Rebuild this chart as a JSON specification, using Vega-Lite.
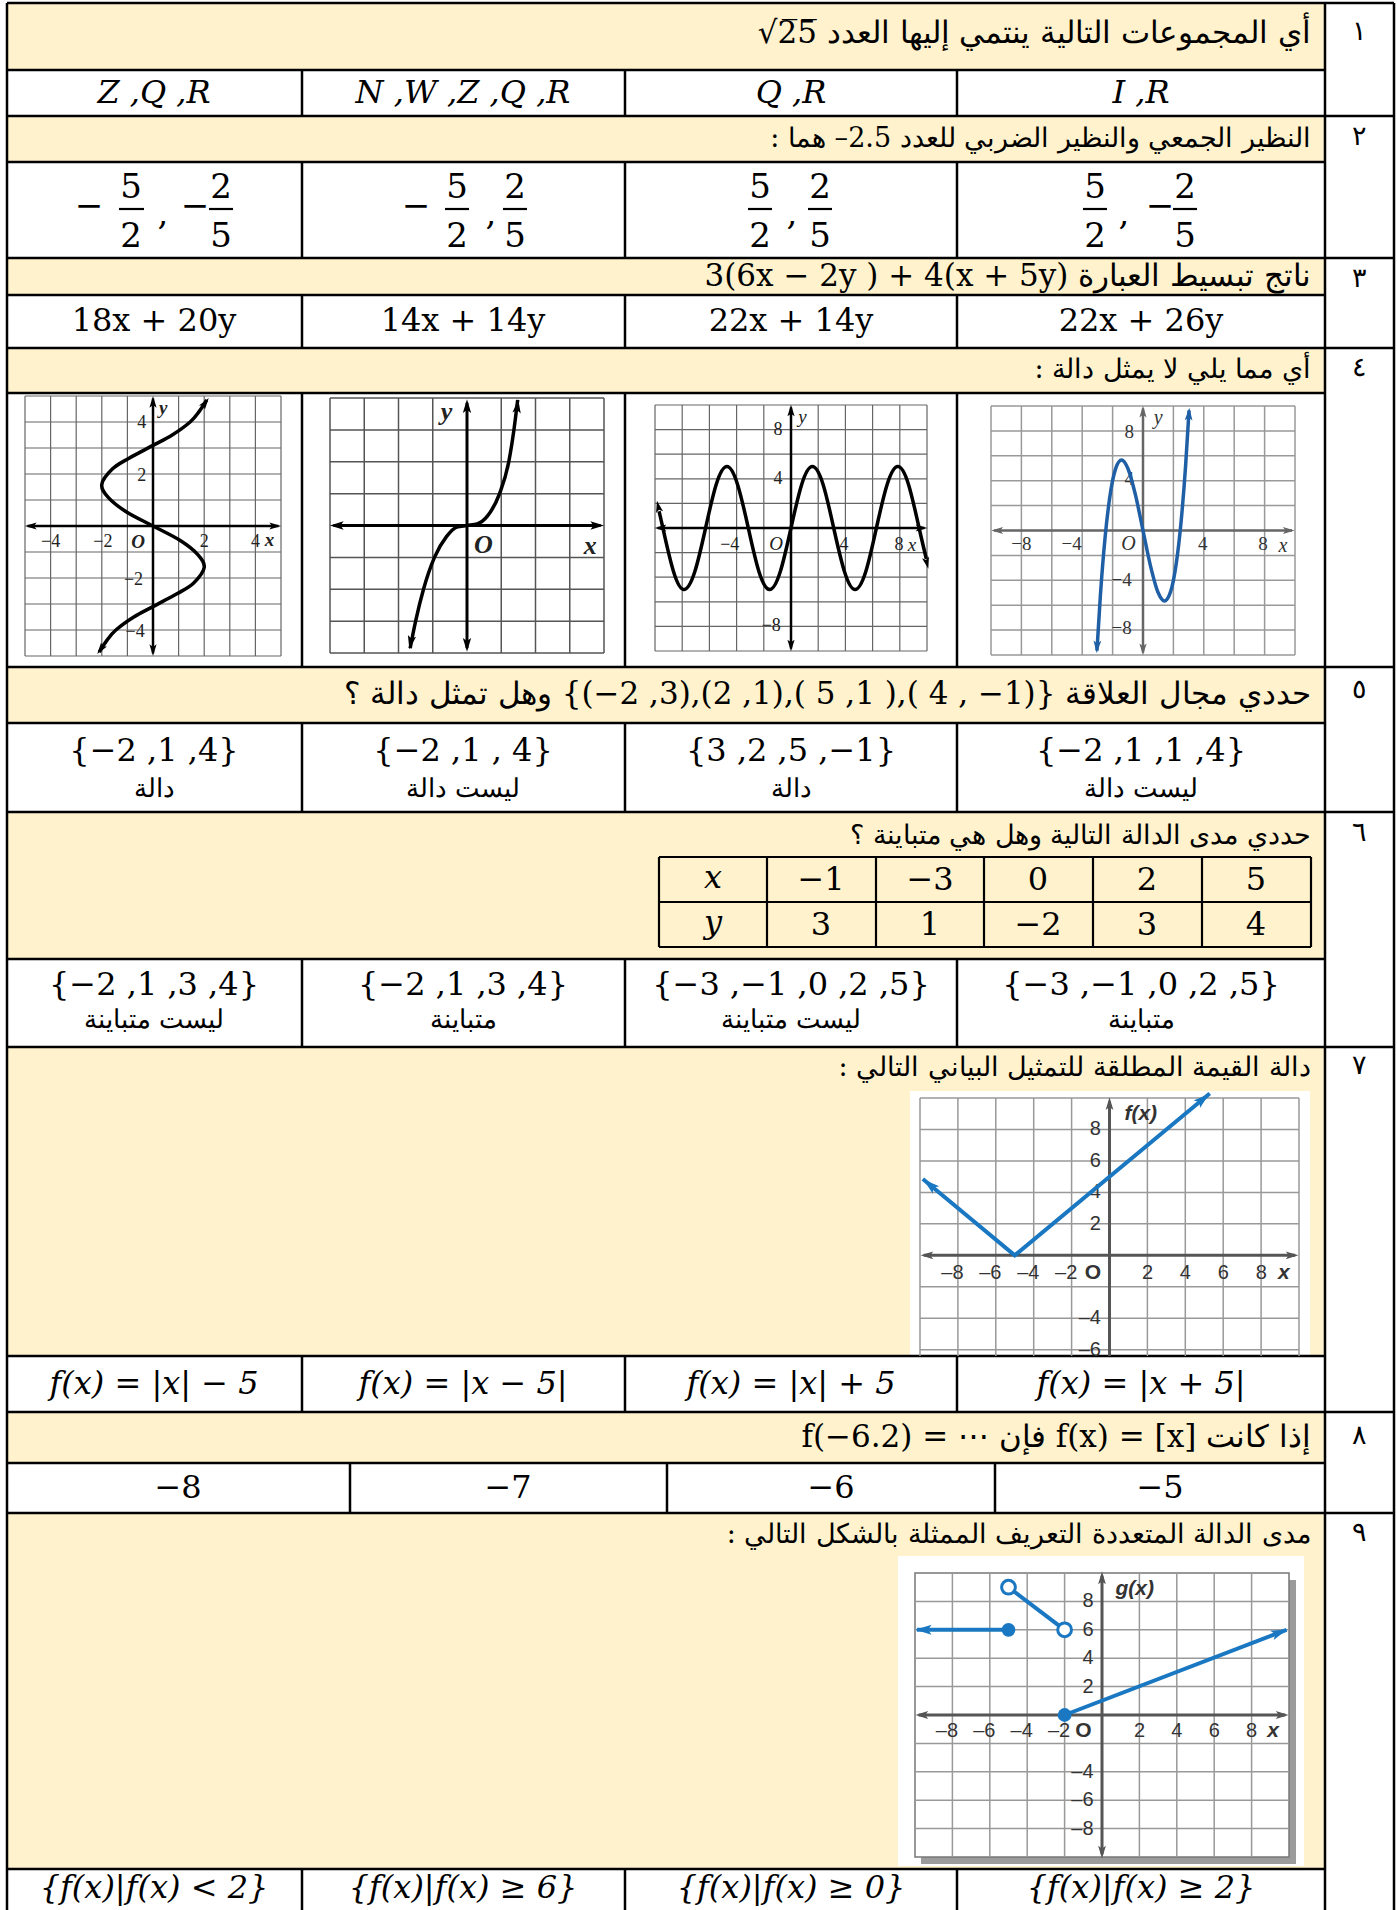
{
"$schema":"https://vega.github.io/schema/vega-lite/v6.json",
"width":1397,"height":1910,"padding":0,"autosize":{"type":"none"},
"background":"white",
"config":{"view":{"stroke":null}},
"resolve":{"scale":{"x":"independent","y":"independent"}},
"layer":[
{
"encoding":{
 "x":{"field":"x","type":"quantitative","scale":{"domain":[0,1397],"range":[0,1397],"nice":false,"zero":false},"axis":null},
 "y":{"field":"y","type":"quantitative","scale":{"domain":[0,1910],"range":[0,1910],"nice":false,"zero":false},"axis":null}
},
"layer":[
 {"data":{"values":[
  {"x":7,"x2":1325,"y":3,"y2":70},{"x":7,"x2":1325,"y":116,"y2":162},{"x":7,"x2":1325,"y":258,"y2":295},
  {"x":7,"x2":1325,"y":348,"y2":393},{"x":7,"x2":1325,"y":667,"y2":723},{"x":7,"x2":1325,"y":812,"y2":959},
  {"x":7,"x2":1325,"y":1047,"y2":1356},{"x":7,"x2":1325,"y":1412,"y2":1463},{"x":7,"x2":1325,"y":1513,"y2":1869}]},
  "mark":{"type":"rect","fill":"#FFF2CC"},"encoding":{"x2":{"field":"x2"},"y2":{"field":"y2"}}},
 {"data":{"values":[{"x":910,"x2":1310,"y":1091,"y2":1356},{"x":898,"x2":1304,"y":1556,"y2":1866}]},
  "mark":{"type":"rect","fill":"white"},"encoding":{"x2":{"field":"x2"},"y2":{"field":"y2"}}},
 {"data":{"values":[{"x":921,"x2":1296,"y":1580,"y2":1864}]},
  "mark":{"type":"rect","fill":"#8a8a8a","opacity":0.85},"encoding":{"x2":{"field":"x2"},"y2":{"field":"y2"}}},
 {"data":{"values":[
  {"x":7,"x2":1394,"y":3,"y2":3},{"x":7,"x2":1325,"y":70,"y2":70},{"x":7,"x2":1394,"y":116,"y2":116},
  {"x":7,"x2":1325,"y":162,"y2":162},{"x":7,"x2":1394,"y":258,"y2":258},{"x":7,"x2":1325,"y":295,"y2":295},
  {"x":7,"x2":1394,"y":348,"y2":348},{"x":7,"x2":1325,"y":393,"y2":393},{"x":7,"x2":1394,"y":667,"y2":667},
  {"x":7,"x2":1325,"y":723,"y2":723},{"x":7,"x2":1394,"y":812,"y2":812},{"x":7,"x2":1325,"y":959,"y2":959},
  {"x":7,"x2":1394,"y":1047,"y2":1047},{"x":7,"x2":1325,"y":1356,"y2":1356},{"x":7,"x2":1394,"y":1412,"y2":1412},
  {"x":7,"x2":1325,"y":1463,"y2":1463},{"x":7,"x2":1394,"y":1513,"y2":1513},{"x":7,"x2":1325,"y":1869,"y2":1869},
  {"x":7,"x2":7,"y":3,"y2":1910},{"x":1325,"x2":1325,"y":3,"y2":1910},{"x":1394,"x2":1394,"y":3,"y2":1910},
  {"x":302,"x2":302,"y":70,"y2":116},{"x":625,"x2":625,"y":70,"y2":116},{"x":957,"x2":957,"y":70,"y2":116},
  {"x":302,"x2":302,"y":162,"y2":258},{"x":625,"x2":625,"y":162,"y2":258},{"x":957,"x2":957,"y":162,"y2":258},
  {"x":302,"x2":302,"y":295,"y2":348},{"x":625,"x2":625,"y":295,"y2":348},{"x":957,"x2":957,"y":295,"y2":348},
  {"x":302,"x2":302,"y":393,"y2":667},{"x":625,"x2":625,"y":393,"y2":667},{"x":957,"x2":957,"y":393,"y2":667},
  {"x":302,"x2":302,"y":723,"y2":812},{"x":625,"x2":625,"y":723,"y2":812},{"x":957,"x2":957,"y":723,"y2":812},
  {"x":302,"x2":302,"y":959,"y2":1047},{"x":625,"x2":625,"y":959,"y2":1047},{"x":957,"x2":957,"y":959,"y2":1047},
  {"x":302,"x2":302,"y":1356,"y2":1412},{"x":625,"x2":625,"y":1356,"y2":1412},{"x":957,"x2":957,"y":1356,"y2":1412},
  {"x":350,"x2":350,"y":1463,"y2":1513},{"x":667,"x2":667,"y":1463,"y2":1513},{"x":995,"x2":995,"y":1463,"y2":1513},
  {"x":302,"x2":302,"y":1869,"y2":1910},{"x":625,"x2":625,"y":1869,"y2":1910},{"x":957,"x2":957,"y":1869,"y2":1910}]},
  "mark":{"type":"rule","color":"black","strokeWidth":2.5},"encoding":{"x2":{"field":"x2"},"y2":{"field":"y2"}}},
 {"data":{"values":[
  {"x":659,"x2":1311,"y":857,"y2":857},{"x":659,"x2":1311,"y":902,"y2":902},{"x":659,"x2":1311,"y":947,"y2":947},
  {"x":659,"x2":659,"y":857,"y2":947},{"x":767,"x2":767,"y":857,"y2":947},{"x":876,"x2":876,"y":857,"y2":947},
  {"x":984,"x2":984,"y":857,"y2":947},{"x":1093,"x2":1093,"y":857,"y2":947},{"x":1202,"x2":1202,"y":857,"y2":947},
  {"x":1311,"x2":1311,"y":857,"y2":947},
  {"x":119,"x2":144,"y":209,"y2":209},{"x":209,"x2":233,"y":209,"y2":209},{"x":445,"x2":469,"y":209,"y2":209},
  {"x":503,"x2":527,"y":209,"y2":209},{"x":748,"x2":772,"y":209,"y2":209},{"x":808,"x2":832,"y":209,"y2":209},
  {"x":1083,"x2":1107,"y":209,"y2":209},{"x":1173,"x2":1197,"y":209,"y2":209}]},
  "mark":{"type":"rule","color":"black","strokeWidth":2.2},"encoding":{"x2":{"field":"x2"},"y2":{"field":"y2"}}},
 {"data":{"values":[
  {"x":1311,"y":34,"t":"\u202Bأي المجموعات التالية ينتمي إليها العدد \u202A√2̅5̅\u202C\u202C"},
  {"x":1311,"y":277,"t":"\u202Bناتج تبسيط العبارة \u202A3(6x − 2y ) + 4(x + 5y)\u202C\u202C"},
  {"x":1311,"y":695,"t":"\u202Bحددي مجال العلاقة \u202D{(−2 ,3),(2 ,1),( 5 ,1 ),( 4 , −1)}\u202C وهل تمثل دالة ؟\u202C"},
  {"x":1311,"y":1438,"t":"\u202Bإذا كانت \u202Af(x) = [x]\u202C  فإن \u202Af(−6.2) = ⋯\u202C\u202C"}]},
  "mark":{"type":"text","font":"DejaVu Serif","fontSize":31,"align":"right","baseline":"middle","color":"black"},
  "encoding":{"text":{"field":"t"}}},
 {"data":{"values":[
  {"x":1311,"y":139,"t":"\u202Bالنظير الجمعي والنظير الضربي للعدد 2.5– هما :\u202C"},
  {"x":1311,"y":370,"t":"\u202Bأي مما يلي لا يمثل دالة :\u202C"},
  {"x":1311,"y":836,"t":"\u202Bحددي مدى الدالة التالية وهل هي متباينة ؟\u202C"},
  {"x":1311,"y":1068,"t":"\u202Bدالة القيمة المطلقة للتمثيل البياني التالي :\u202C"},
  {"x":1311,"y":1535,"t":"\u202Bمدى الدالة المتعددة التعريف الممثلة بالشكل التالي :\u202C"}]},
  "mark":{"type":"text","font":"DejaVu Serif","fontSize":27,"align":"right","baseline":"middle","color":"black"},
  "encoding":{"text":{"field":"t"}}},
 {"data":{"values":[
  {"x":1359,"y":32,"t":"١"},{"x":1359,"y":137,"t":"٢"},{"x":1359,"y":279,"t":"٣"},{"x":1359,"y":368,"t":"٤"},
  {"x":1359,"y":690,"t":"٥"},{"x":1359,"y":833,"t":"٦"},{"x":1359,"y":1066,"t":"٧"},{"x":1359,"y":1436,"t":"٨"},
  {"x":1359,"y":1533,"t":"٩"}]},
  "mark":{"type":"text","font":"DejaVu Serif","fontSize":27,"align":"center","baseline":"middle","color":"black"},
  "encoding":{"text":{"field":"t"}}},
 {"data":{"values":[
  {"x":154,"y":93,"t":"Z ,Q ,R"},{"x":463,"y":93,"t":"N ,W ,Z ,Q ,R"},{"x":791,"y":93,"t":"Q ,R"},{"x":1141,"y":93,"t":"I ,R"},
  {"x":154,"y":1384,"t":"f(x) = |x| − 5"},{"x":463,"y":1384,"t":"f(x) = |x − 5|"},{"x":791,"y":1384,"t":"f(x) = |x| + 5"},{"x":1141,"y":1384,"t":"f(x) = |x + 5|"},
  {"x":154,"y":1888,"t":"{f(x)|f(x) < 2}"},{"x":463,"y":1888,"t":"{f(x)|f(x) ≥ 6}"},{"x":791,"y":1888,"t":"{f(x)|f(x) ≥ 0}"},{"x":1141,"y":1888,"t":"{f(x)|f(x) ≥ 2}"}]},
  "mark":{"type":"text","font":"DejaVu Serif","fontSize":32,"fontStyle":"italic","align":"center","baseline":"middle","color":"black"},
  "encoding":{"text":{"field":"t"}}},
 {"data":{"values":[
  {"x":131,"y":188,"t":"5"},{"x":221,"y":188,"t":"2"},{"x":131,"y":237,"t":"2"},{"x":221,"y":237,"t":"5"},
  {"x":457,"y":188,"t":"5"},{"x":515,"y":188,"t":"2"},{"x":457,"y":237,"t":"2"},{"x":515,"y":237,"t":"5"},
  {"x":760,"y":188,"t":"5"},{"x":820,"y":188,"t":"2"},{"x":760,"y":237,"t":"2"},{"x":820,"y":237,"t":"5"},
  {"x":1095,"y":188,"t":"5"},{"x":1185,"y":188,"t":"2"},{"x":1095,"y":237,"t":"2"},{"x":1185,"y":237,"t":"5"},
  {"x":89,"y":207,"t":"−"},{"x":195,"y":207,"t":"−"},{"x":416,"y":207,"t":"−"},{"x":1160,"y":207,"t":"−"},
  {"x":163,"y":215,"t":","},{"x":491,"y":215,"t":","},{"x":792,"y":215,"t":","},{"x":1124,"y":215,"t":","}]},
  "mark":{"type":"text","font":"DejaVu Serif","fontSize":34,"align":"center","baseline":"middle","color":"black"},
  "encoding":{"text":{"field":"t"}}},
 {"data":{"values":[
  {"x":154,"y":321,"t":"18x + 20y"},{"x":463,"y":321,"t":"14x + 14y"},{"x":791,"y":321,"t":"22x + 14y"},{"x":1141,"y":321,"t":"22x + 26y"},
  {"x":154,"y":751,"t":"{−2 ,1 ,4}"},{"x":463,"y":751,"t":"{−2 ,1 , 4}"},{"x":791,"y":751,"t":"{3 ,2 ,5 ,−1}"},{"x":1141,"y":751,"t":"{−2 ,1 ,1 ,4}"},
  {"x":154,"y":985,"t":"{−2 ,1 ,3 ,4}"},{"x":463,"y":985,"t":"{−2 ,1 ,3 ,4}"},{"x":791,"y":985,"t":"{−3 ,−1 ,0 ,2 ,5}"},{"x":1141,"y":985,"t":"{−3 ,−1 ,0 ,2 ,5}"},
  {"x":178,"y":1488,"t":"−8"},{"x":508,"y":1488,"t":"−7"},{"x":831,"y":1488,"t":"−6"},{"x":1160,"y":1488,"t":"−5"}]},
  "mark":{"type":"text","font":"DejaVu Serif","fontSize":32,"align":"center","baseline":"middle","color":"black"},
  "encoding":{"text":{"field":"t"}}},
 {"data":{"values":[
  {"x":821,"y":880,"t":"−1"},{"x":930,"y":880,"t":"−3"},{"x":1038,"y":880,"t":"0"},{"x":1147,"y":880,"t":"2"},{"x":1256,"y":880,"t":"5"},
  {"x":821,"y":925,"t":"3"},{"x":930,"y":925,"t":"1"},{"x":1038,"y":925,"t":"−2"},{"x":1147,"y":925,"t":"3"},{"x":1256,"y":925,"t":"4"}]},
  "mark":{"type":"text","font":"DejaVu Serif","fontSize":32,"align":"center","baseline":"middle","color":"black"},
  "encoding":{"text":{"field":"t"}}},
 {"data":{"values":[{"x":713,"y":878,"t":"x"},{"x":713,"y":923,"t":"y"}]},
  "mark":{"type":"text","font":"DejaVu Serif","fontSize":32,"fontStyle":"italic","align":"center","baseline":"middle","color":"black"},
  "encoding":{"text":{"field":"t"}}},
 {"data":{"values":[
  {"x":154,"y":789,"t":"\u202Bدالة\u202C"},{"x":463,"y":789,"t":"\u202Bليست دالة\u202C"},{"x":791,"y":789,"t":"\u202Bدالة\u202C"},{"x":1141,"y":789,"t":"\u202Bليست دالة\u202C"},
  {"x":154,"y":1020,"t":"\u202Bليست متباينة\u202C"},{"x":463,"y":1020,"t":"\u202Bمتباينة\u202C"},{"x":791,"y":1020,"t":"\u202Bليست متباينة\u202C"},{"x":1141,"y":1020,"t":"\u202Bمتباينة\u202C"}]},
  "mark":{"type":"text","font":"DejaVu Serif","fontSize":26,"align":"center","baseline":"middle","color":"black"},
  "encoding":{"text":{"field":"t"}}}
]
},
{
"encoding":{
 "x":{"field":"x","type":"quantitative","scale":{"domain":[-5,5],"range":[25,281],"nice":false,"zero":false},"axis":null},
 "y":{"field":"y","type":"quantitative","scale":{"domain":[-5,5],"range":[656,396],"nice":false,"zero":false},"axis":null}
},
"layer":[
 {"data":{"values":[
  {"x":-5,"x2":-5,"y":-5,"y2":5},{"x":-4,"x2":-4,"y":-5,"y2":5},{"x":-3,"x2":-3,"y":-5,"y2":5},{"x":-2,"x2":-2,"y":-5,"y2":5},
  {"x":-1,"x2":-1,"y":-5,"y2":5},{"x":1,"x2":1,"y":-5,"y2":5},{"x":2,"x2":2,"y":-5,"y2":5},{"x":3,"x2":3,"y":-5,"y2":5},
  {"x":4,"x2":4,"y":-5,"y2":5},{"x":5,"x2":5,"y":-5,"y2":5},
  {"x":-5,"x2":5,"y":-5,"y2":-5},{"x":-5,"x2":5,"y":-4,"y2":-4},{"x":-5,"x2":5,"y":-3,"y2":-3},{"x":-5,"x2":5,"y":-2,"y2":-2},
  {"x":-5,"x2":5,"y":-1,"y2":-1},{"x":-5,"x2":5,"y":1,"y2":1},{"x":-5,"x2":5,"y":2,"y2":2},{"x":-5,"x2":5,"y":3,"y2":3},
  {"x":-5,"x2":5,"y":4,"y2":4},{"x":-5,"x2":5,"y":5,"y2":5}]},
  "mark":{"type":"rule","color":"#666666","strokeWidth":1.2},"encoding":{"x2":{"field":"x2"},"y2":{"field":"y2"}}},
 {"data":{"values":[{"x":-4.9,"x2":4.9,"y":0,"y2":0},{"x":0,"x2":0,"y":-4.9,"y2":4.9}]},
  "mark":{"type":"rule","color":"black","strokeWidth":2.5},"encoding":{"x2":{"field":"x2"},"y2":{"field":"y2"}}},
 {"data":{"values":[
  {"x":-2.1,"y":-4.85},{"x":-1.8,"y":-4.4},{"x":-1.45,"y":-4.0},{"x":-0.75,"y":-3.5},{"x":0,"y":-3.1},{"x":0.95,"y":-2.6},
  {"x":1.58,"y":-2.2},{"x":2.0,"y":-1.6},{"x":1.75,"y":-1.1},{"x":1.05,"y":-0.55},{"x":0,"y":0},{"x":-1.05,"y":0.55},
  {"x":-1.75,"y":1.1},{"x":-2.0,"y":1.6},{"x":-1.58,"y":2.2},{"x":-0.95,"y":2.6},{"x":0,"y":3.1},{"x":0.75,"y":3.5},
  {"x":1.45,"y":4.0},{"x":1.8,"y":4.4},{"x":2.1,"y":4.85}]},
  "mark":{"type":"line","color":"black","strokeWidth":3.5,"interpolate":"cardinal"},"encoding":{"order":{"field":"y","type":"quantitative"}}},
 {"data":{"values":[
  {"x":-4.75,"y":0,"dir":270},{"x":4.75,"y":0,"dir":90},{"x":0,"y":4.75,"dir":0},{"x":0,"y":-4.75,"dir":180},
  {"x":2.03,"y":4.72,"dir":35},{"x":-2.03,"y":-4.72,"dir":215}]},
  "mark":{"type":"point","shape":"M0,-1L0.55,0.8L0,0.4L-0.55,0.8Z","filled":true,"color":"black","opacity":1,"size":170},
  "encoding":{"angle":{"field":"dir","type":"quantitative","scale":null}}},
 {"data":{"values":[
  {"x":-4.0,"y":-0.62,"t":"−4"},{"x":-1.96,"y":-0.62,"t":"−2"},{"x":2.0,"y":-0.62,"t":"2"},{"x":4.0,"y":-0.62,"t":"4"},
  {"x":-0.44,"y":3.96,"t":"4"},{"x":-0.44,"y":1.94,"t":"2"},{"x":-0.76,"y":-2.06,"t":"−2"},{"x":-0.7,"y":-4.06,"t":"−4"}]},
  "mark":{"type":"text","font":"Liberation Serif","fontSize":18,"align":"center","baseline":"middle","color":"#222"},
  "encoding":{"text":{"field":"t"}}},
 {"data":{"values":[{"x":-0.58,"y":-0.62,"t":"O"},{"x":4.55,"y":-0.55,"t":"x"},{"x":0.4,"y":4.55,"t":"y"}]},
  "mark":{"type":"text","font":"Liberation Serif","fontSize":19,"fontStyle":"italic","fontWeight":"bold","align":"center","baseline":"middle","color":"#222"},
  "encoding":{"text":{"field":"t"}}}
]
},
{
"encoding":{
 "x":{"field":"x","type":"quantitative","scale":{"domain":[-4,4],"range":[330,604],"nice":false,"zero":false},"axis":null},
 "y":{"field":"y","type":"quantitative","scale":{"domain":[-4,4],"range":[653,398],"nice":false,"zero":false},"axis":null}
},
"layer":[
 {"data":{"values":[
  {"x":-4,"x2":-4,"y":-4,"y2":4},{"x":-3,"x2":-3,"y":-4,"y2":4},{"x":-2,"x2":-2,"y":-4,"y2":4},{"x":-1,"x2":-1,"y":-4,"y2":4},
  {"x":1,"x2":1,"y":-4,"y2":4},{"x":2,"x2":2,"y":-4,"y2":4},{"x":3,"x2":3,"y":-4,"y2":4},{"x":4,"x2":4,"y":-4,"y2":4},
  {"x":-4,"x2":4,"y":-4,"y2":-4},{"x":-4,"x2":4,"y":-3,"y2":-3},{"x":-4,"x2":4,"y":-2,"y2":-2},{"x":-4,"x2":4,"y":-1,"y2":-1},
  {"x":-4,"x2":4,"y":1,"y2":1},{"x":-4,"x2":4,"y":2,"y2":2},{"x":-4,"x2":4,"y":3,"y2":3},{"x":-4,"x2":4,"y":4,"y2":4}]},
  "mark":{"type":"rule","color":"#555555","strokeWidth":1.5},"encoding":{"x2":{"field":"x2"},"y2":{"field":"y2"}}},
 {"data":{"values":[{"x":-3.9,"x2":3.9,"y":0,"y2":0},{"x":0,"x2":0,"y":-3.85,"y2":3.85}]},
  "mark":{"type":"rule","color":"black","strokeWidth":3},"encoding":{"x2":{"field":"x2"},"y2":{"field":"y2"}}},
 {"data":{"values":[
  {"x":-1.66,"y":-3.85},{"x":-1.5,"y":-3},{"x":-1.27,"y":-2},{"x":-0.95,"y":-1},{"x":-0.6,"y":-0.35},{"x":-0.3,"y":-0.05},
  {"x":0,"y":0},{"x":0.3,"y":0.05},{"x":0.6,"y":0.3},{"x":0.95,"y":1},{"x":1.22,"y":2},{"x":1.37,"y":3},{"x":1.48,"y":3.94}]},
  "mark":{"type":"line","color":"black","strokeWidth":3.5,"interpolate":"monotone"},"encoding":{"order":{"field":"x","type":"quantitative"}}},
 {"data":{"values":[
  {"x":-3.78,"y":0,"dir":270},{"x":3.78,"y":0,"dir":90},{"x":0,"y":3.72,"dir":0},{"x":0,"y":-3.72,"dir":180},
  {"x":1.47,"y":3.72,"dir":7},{"x":-1.64,"y":-3.65,"dir":191}]},
  "mark":{"type":"point","shape":"M0,-1L0.55,0.8L0,0.4L-0.55,0.8Z","filled":true,"color":"black","opacity":1,"size":230},
  "encoding":{"angle":{"field":"dir","type":"quantitative","scale":null}}},
 {"data":{"values":[{"x":-0.6,"y":3.55,"t":"y"},{"x":0.48,"y":-0.6,"t":"O"},{"x":3.6,"y":-0.65,"t":"x"}]},
  "mark":{"type":"text","font":"Liberation Serif","fontSize":26,"fontStyle":"italic","fontWeight":"bold","align":"center","baseline":"middle","color":"#222"},
  "encoding":{"text":{"field":"t"}}}
]
},
{
"encoding":{
 "x":{"field":"x","type":"quantitative","scale":{"domain":[-10,10],"range":[655,927],"nice":false,"zero":false},"axis":null},
 "y":{"field":"y","type":"quantitative","scale":{"domain":[-10,10],"range":[651,405],"nice":false,"zero":false},"axis":null}
},
"layer":[
 {"data":{"values":[
  {"x":-10,"x2":-10,"y":-10,"y2":10},{"x":-8,"x2":-8,"y":-10,"y2":10},{"x":-6,"x2":-6,"y":-10,"y2":10},{"x":-4,"x2":-4,"y":-10,"y2":10},
  {"x":-2,"x2":-2,"y":-10,"y2":10},{"x":2,"x2":2,"y":-10,"y2":10},{"x":4,"x2":4,"y":-10,"y2":10},{"x":6,"x2":6,"y":-10,"y2":10},
  {"x":8,"x2":8,"y":-10,"y2":10},{"x":10,"x2":10,"y":-10,"y2":10},
  {"x":-10,"x2":10,"y":-10,"y2":-10},{"x":-10,"x2":10,"y":-8,"y2":-8},{"x":-10,"x2":10,"y":-6,"y2":-6},{"x":-10,"x2":10,"y":-4,"y2":-4},
  {"x":-10,"x2":10,"y":-2,"y2":-2},{"x":-10,"x2":10,"y":2,"y2":2},{"x":-10,"x2":10,"y":4,"y2":4},{"x":-10,"x2":10,"y":6,"y2":6},
  {"x":-10,"x2":10,"y":8,"y2":8},{"x":-10,"x2":10,"y":10,"y2":10}]},
  "mark":{"type":"rule","color":"#666666","strokeWidth":1.2},"encoding":{"x2":{"field":"x2"},"y2":{"field":"y2"}}},
 {"data":{"values":[{"x":-9.8,"x2":9.8,"y":0,"y2":0},{"x":0,"x2":0,"y":-9.8,"y2":9.8}]},
  "mark":{"type":"rule","color":"black","strokeWidth":2.5},"encoding":{"x2":{"field":"x2"},"y2":{"field":"y2"}}},
 {"data":{"values":[
  {"x":-9.7,"y":1.36},{"x":-9.42,"y":0},{"x":-8.64,"y":-3.54},{"x":-7.85,"y":-5},{"x":-7.07,"y":-3.54},{"x":-6.28,"y":0},
  {"x":-5.5,"y":3.54},{"x":-4.71,"y":5},{"x":-3.93,"y":3.54},{"x":-3.14,"y":0},{"x":-2.36,"y":-3.54},{"x":-1.57,"y":-5},
  {"x":-0.785,"y":-3.54},{"x":0,"y":0},{"x":0.785,"y":3.54},{"x":1.57,"y":5},{"x":2.36,"y":3.54},{"x":3.14,"y":0},
  {"x":3.93,"y":-3.54},{"x":4.71,"y":-5},{"x":5.5,"y":-3.54},{"x":6.28,"y":0},{"x":7.07,"y":3.54},{"x":7.85,"y":5},
  {"x":8.64,"y":3.54},{"x":9.42,"y":0},{"x":9.95,"y":-2.51}]},
  "mark":{"type":"line","color":"black","strokeWidth":3.5,"interpolate":"natural"},"encoding":{"order":{"field":"x","type":"quantitative"}}},
 {"data":{"values":[
  {"x":-9.55,"y":0,"dir":270},{"x":9.55,"y":0,"dir":90},{"x":0,"y":9.5,"dir":0},{"x":0,"y":-9.5,"dir":180},
  {"x":-9.75,"y":1.7,"dir":347},{"x":9.98,"y":-2.8,"dir":166}]},
  "mark":{"type":"point","shape":"M0,-1L0.55,0.8L0,0.4L-0.55,0.8Z","filled":true,"color":"black","opacity":1,"size":170},
  "encoding":{"angle":{"field":"dir","type":"quantitative","scale":null}}},
 {"data":{"values":[
  {"x":-0.95,"y":8,"t":"8"},{"x":-0.95,"y":4,"t":"4"},{"x":-1.45,"y":-8,"t":"−8"},
  {"x":-4.5,"y":-1.35,"t":"−4"},{"x":3.9,"y":-1.35,"t":"4"},{"x":7.95,"y":-1.35,"t":"8"}]},
  "mark":{"type":"text","font":"Liberation Serif","fontSize":18,"align":"center","baseline":"middle","color":"#222"},
  "encoding":{"text":{"field":"t"}}},
 {"data":{"values":[{"x":0.85,"y":9.0,"t":"y"},{"x":-1.1,"y":-1.3,"t":"O"},{"x":8.9,"y":-1.35,"t":"x"}]},
  "mark":{"type":"text","font":"Liberation Serif","fontSize":19,"fontStyle":"italic","align":"center","baseline":"middle","color":"#222"},
  "encoding":{"text":{"field":"t"}}}
]
},
{
"encoding":{
 "x":{"field":"x","type":"quantitative","scale":{"domain":[-10,10],"range":[991,1295],"nice":false,"zero":false},"axis":null},
 "y":{"field":"y","type":"quantitative","scale":{"domain":[-10,10],"range":[655,406],"nice":false,"zero":false},"axis":null}
},
"layer":[
 {"data":{"values":[
  {"x":-10,"x2":-10,"y":-10,"y2":10},{"x":-8,"x2":-8,"y":-10,"y2":10},{"x":-6,"x2":-6,"y":-10,"y2":10},{"x":-4,"x2":-4,"y":-10,"y2":10},
  {"x":-2,"x2":-2,"y":-10,"y2":10},{"x":2,"x2":2,"y":-10,"y2":10},{"x":4,"x2":4,"y":-10,"y2":10},{"x":6,"x2":6,"y":-10,"y2":10},
  {"x":8,"x2":8,"y":-10,"y2":10},{"x":10,"x2":10,"y":-10,"y2":10},
  {"x":-10,"x2":10,"y":-10,"y2":-10},{"x":-10,"x2":10,"y":-8,"y2":-8},{"x":-10,"x2":10,"y":-6,"y2":-6},{"x":-10,"x2":10,"y":-4,"y2":-4},
  {"x":-10,"x2":10,"y":-2,"y2":-2},{"x":-10,"x2":10,"y":2,"y2":2},{"x":-10,"x2":10,"y":4,"y2":4},{"x":-10,"x2":10,"y":6,"y2":6},
  {"x":-10,"x2":10,"y":8,"y2":8},{"x":-10,"x2":10,"y":10,"y2":10}]},
  "mark":{"type":"rule","color":"#999999","strokeWidth":1.5},"encoding":{"x2":{"field":"x2"},"y2":{"field":"y2"}}},
 {"data":{"values":[{"x":-9.8,"x2":9.8,"y":0,"y2":0},{"x":0,"x2":0,"y":-9.8,"y2":9.8}]},
  "mark":{"type":"rule","color":"#666666","strokeWidth":2.5},"encoding":{"x2":{"field":"x2"},"y2":{"field":"y2"}}},
 {"data":{"values":[
  {"x":-8,"y":-1.05,"t":"−8"},{"x":-4.7,"y":-1.05,"t":"−4"},{"x":3.93,"y":-1.05,"t":"4"},{"x":7.9,"y":-1.05,"t":"8"},
  {"x":-0.9,"y":7.9,"t":"8"},{"x":-0.9,"y":4.1,"t":"4"},{"x":-1.4,"y":-4,"t":"−4"},{"x":-1.4,"y":-7.8,"t":"−8"}]},
  "mark":{"type":"text","font":"Liberation Serif","fontSize":19,"align":"center","baseline":"middle","color":"#333"},
  "encoding":{"text":{"field":"t"}}},
 {"data":{"values":[{"x":1.0,"y":9.0,"t":"y"},{"x":-0.95,"y":-1.05,"t":"O"},{"x":9.2,"y":-1.25,"t":"x"}]},
  "mark":{"type":"text","font":"Liberation Serif","fontSize":20,"fontStyle":"italic","align":"center","baseline":"middle","color":"#333"},
  "encoding":{"text":{"field":"t"}}},
 {"data":{"values":[
  {"x":-3.03,"y":-9.64},{"x":-2.8,"y":-5.15},{"x":-2.5,"y":-0.63},{"x":-2.2,"y":2.55},{"x":-1.8,"y":4.97},{"x":-1.41,"y":5.66},
  {"x":-1.0,"y":5},{"x":-0.5,"y":2.875},{"x":0,"y":0},{"x":0.5,"y":-2.875},{"x":1.0,"y":-5},{"x":1.41,"y":-5.66},
  {"x":1.8,"y":-4.97},{"x":2.2,"y":-2.55},{"x":2.5,"y":0.63},{"x":2.8,"y":5.15},{"x":3.03,"y":9.64}]},
  "mark":{"type":"line","color":"#1f5fa5","strokeWidth":3.5,"interpolate":"monotone"},"encoding":{"order":{"field":"x","type":"quantitative"}}},
 {"data":{"values":[{"x":-9.55,"y":0,"dir":270},{"x":9.55,"y":0,"dir":90},{"x":0,"y":9.5,"dir":0},{"x":0,"y":-9.5,"dir":180}]},
  "mark":{"type":"point","shape":"M0,-1L0.55,0.8L0,0.4L-0.55,0.8Z","filled":true,"color":"#666666","opacity":1,"size":170},
  "encoding":{"angle":{"field":"dir","type":"quantitative","scale":null}}},
 {"data":{"values":[{"x":3.02,"y":9.3,"dir":3},{"x":-3.02,"y":-9.3,"dir":183}]},
  "mark":{"type":"point","shape":"M0,-1L0.55,0.8L0,0.4L-0.55,0.8Z","filled":true,"color":"#1f5fa5","opacity":1,"size":200},
  "encoding":{"angle":{"field":"dir","type":"quantitative","scale":null}}}
]
},
{
"encoding":{
 "x":{"field":"x","type":"quantitative","scale":{"domain":[-10,10],"range":[920,1299],"nice":false,"zero":false},"axis":null},
 "y":{"field":"y","type":"quantitative","scale":{"domain":[-6.4,10],"range":[1356,1098],"nice":false,"zero":false},"axis":null}
},
"layer":[
 {"data":{"values":[
  {"x":-10,"x2":-10,"y":-6.4,"y2":10},{"x":-8,"x2":-8,"y":-6.4,"y2":10},{"x":-6,"x2":-6,"y":-6.4,"y2":10},{"x":-4,"x2":-4,"y":-6.4,"y2":10},
  {"x":-2,"x2":-2,"y":-6.4,"y2":10},{"x":2,"x2":2,"y":-6.4,"y2":10},{"x":4,"x2":4,"y":-6.4,"y2":10},{"x":6,"x2":6,"y":-6.4,"y2":10},
  {"x":8,"x2":8,"y":-6.4,"y2":10},{"x":10,"x2":10,"y":-6.4,"y2":10},
  {"x":-10,"x2":10,"y":-6,"y2":-6},{"x":-10,"x2":10,"y":-4,"y2":-4},{"x":-10,"x2":10,"y":-2,"y2":-2},
  {"x":-10,"x2":10,"y":2,"y2":2},{"x":-10,"x2":10,"y":4,"y2":4},{"x":-10,"x2":10,"y":6,"y2":6},
  {"x":-10,"x2":10,"y":8,"y2":8},{"x":-10,"x2":10,"y":10,"y2":10}]},
  "mark":{"type":"rule","color":"#999999","strokeWidth":1.5},"encoding":{"x2":{"field":"x2"},"y2":{"field":"y2"}}},
 {"data":{"values":[{"x":-9.8,"x2":9.8,"y":0,"y2":0},{"x":0,"x2":0,"y":-6.4,"y2":9.8}]},
  "mark":{"type":"rule","color":"#555555","strokeWidth":3},"encoding":{"x2":{"field":"x2"},"y2":{"field":"y2"}}},
 {"data":{"values":[{"x":-9.6,"y":0,"dir":270},{"x":9.6,"y":0,"dir":90},{"x":0,"y":9.6,"dir":0}]},
  "mark":{"type":"point","shape":"M0,-1L0.55,0.8L0,0.4L-0.55,0.8Z","filled":true,"color":"#555555","opacity":1,"size":200},
  "encoding":{"angle":{"field":"dir","type":"quantitative","scale":null}}},
 {"data":{"values":[
  {"x":-0.45,"y":8,"t":"8"},{"x":-0.45,"y":6,"t":"6"},{"x":-0.45,"y":4,"t":"4"},{"x":-0.45,"y":2,"t":"2"},
  {"x":-0.45,"y":-4,"t":"–4"},{"x":-0.45,"y":-6,"t":"–6"},
  {"x":-7.7,"y":-1.15,"t":"–8"},{"x":-5.7,"y":-1.15,"t":"–6"},{"x":-3.7,"y":-1.15,"t":"–4"},{"x":-1.7,"y":-1.15,"t":"–2"},
  {"x":2.3,"y":-1.15,"t":"2"},{"x":4.3,"y":-1.15,"t":"4"},{"x":6.3,"y":-1.15,"t":"6"},{"x":8.3,"y":-1.15,"t":"8"}]},
  "mark":{"type":"text","font":"Liberation Sans","fontSize":20,"align":"right","baseline":"middle","color":"#333"},
  "encoding":{"text":{"field":"t"}}},
 {"data":{"values":[{"x":-0.87,"y":-1.15,"t":"O"}]},
  "mark":{"type":"text","font":"Liberation Sans","fontSize":21,"fontWeight":"bold","align":"center","baseline":"middle","color":"#333"},
  "encoding":{"text":{"field":"t"}}},
 {"data":{"values":[{"x":9.2,"y":-1.15,"t":"x"},{"x":1.65,"y":9.0,"t":"f(x)"}]},
  "mark":{"type":"text","font":"Liberation Sans","fontSize":21,"fontWeight":"bold","fontStyle":"italic","align":"center","baseline":"middle","color":"#333"},
  "encoding":{"text":{"field":"t"}}},
 {"data":{"values":[{"x":-9.85,"y":4.85},{"x":-5,"y":0},{"x":5.29,"y":10.29}]},
  "mark":{"type":"line","color":"#1a78c2","strokeWidth":4},"encoding":{"order":{"field":"x","type":"quantitative"}}},
 {"data":{"values":[{"x":-9.45,"y":4.45,"dir":310},{"x":4.9,"y":9.9,"dir":50}]},
  "mark":{"type":"point","shape":"M0,-1L0.55,0.8L0,0.4L-0.55,0.8Z","filled":true,"color":"#1a78c2","opacity":1,"size":330},
  "encoding":{"angle":{"field":"dir","type":"quantitative","scale":null}}}
]
},
{
"encoding":{
 "x":{"field":"x","type":"quantitative","scale":{"domain":[-10,10],"range":[915,1289],"nice":false,"zero":false},"axis":null},
 "y":{"field":"y","type":"quantitative","scale":{"domain":[-10,10],"range":[1857,1573],"nice":false,"zero":false},"axis":null}
},
"layer":[
 {"data":{"values":[{"x":-10,"x2":10,"y":-10,"y2":10}]},
  "mark":{"type":"rect","fill":"white","stroke":"#777777","strokeWidth":1.5},"encoding":{"x2":{"field":"x2"},"y2":{"field":"y2"}}},
 {"data":{"values":[
  {"x":-8,"x2":-8,"y":-10,"y2":10},{"x":-6,"x2":-6,"y":-10,"y2":10},{"x":-4,"x2":-4,"y":-10,"y2":10},
  {"x":-2,"x2":-2,"y":-10,"y2":10},{"x":2,"x2":2,"y":-10,"y2":10},{"x":4,"x2":4,"y":-10,"y2":10},{"x":6,"x2":6,"y":-10,"y2":10},
  {"x":8,"x2":8,"y":-10,"y2":10},
  {"x":-10,"x2":10,"y":-8,"y2":-8},{"x":-10,"x2":10,"y":-6,"y2":-6},{"x":-10,"x2":10,"y":-4,"y2":-4},
  {"x":-10,"x2":10,"y":-2,"y2":-2},{"x":-10,"x2":10,"y":2,"y2":2},{"x":-10,"x2":10,"y":4,"y2":4},{"x":-10,"x2":10,"y":6,"y2":6},
  {"x":-10,"x2":10,"y":8,"y2":8}]},
  "mark":{"type":"rule","color":"#999999","strokeWidth":1.5},"encoding":{"x2":{"field":"x2"},"y2":{"field":"y2"}}},
 {"data":{"values":[{"x":-9.8,"x2":9.8,"y":0,"y2":0},{"x":0,"x2":0,"y":-9.8,"y2":9.8}]},
  "mark":{"type":"rule","color":"#555555","strokeWidth":3},"encoding":{"x2":{"field":"x2"},"y2":{"field":"y2"}}},
 {"data":{"values":[{"x":-9.6,"y":0,"dir":270},{"x":9.6,"y":0,"dir":90},{"x":0,"y":9.6,"dir":0},{"x":0,"y":-9.6,"dir":180}]},
  "mark":{"type":"point","shape":"M0,-1L0.55,0.8L0,0.4L-0.55,0.8Z","filled":true,"color":"#555555","opacity":1,"size":200},
  "encoding":{"angle":{"field":"dir","type":"quantitative","scale":null}}},
 {"data":{"values":[
  {"x":-0.45,"y":8,"t":"8"},{"x":-0.45,"y":6,"t":"6"},{"x":-0.45,"y":4,"t":"4"},{"x":-0.45,"y":2,"t":"2"},
  {"x":-0.45,"y":-4,"t":"–4"},{"x":-0.45,"y":-6,"t":"–6"},{"x":-0.45,"y":-8,"t":"–8"},
  {"x":-7.7,"y":-1.1,"t":"–8"},{"x":-5.7,"y":-1.1,"t":"–6"},{"x":-3.7,"y":-1.1,"t":"–4"},{"x":-1.7,"y":-1.1,"t":"–2"},
  {"x":2.3,"y":-1.1,"t":"2"},{"x":4.3,"y":-1.1,"t":"4"},{"x":6.3,"y":-1.1,"t":"6"},{"x":8.3,"y":-1.1,"t":"8"}]},
  "mark":{"type":"text","font":"Liberation Sans","fontSize":20,"align":"right","baseline":"middle","color":"#333"},
  "encoding":{"text":{"field":"t"}}},
 {"data":{"values":[{"x":-1.0,"y":-1.1,"t":"O"}]},
  "mark":{"type":"text","font":"Liberation Sans","fontSize":21,"fontWeight":"bold","align":"center","baseline":"middle","color":"#333"},
  "encoding":{"text":{"field":"t"}}},
 {"data":{"values":[{"x":9.15,"y":-1.1,"t":"x"},{"x":1.75,"y":8.9,"t":"g(x)"}]},
  "mark":{"type":"text","font":"Liberation Sans","fontSize":21,"fontWeight":"bold","fontStyle":"italic","align":"center","baseline":"middle","color":"#333"},
  "encoding":{"text":{"field":"t"}}},
 {"data":{"values":[
  {"seg":"a","x":-9.9,"y":6},{"seg":"a","x":-5,"y":6},
  {"seg":"b","x":-5,"y":9},{"seg":"b","x":-2,"y":6},
  {"seg":"c","x":-2,"y":0},{"seg":"c","x":9.87,"y":6}]},
  "mark":{"type":"line","color":"#1a78c2","strokeWidth":4},"encoding":{"detail":{"field":"seg"},"order":{"field":"x","type":"quantitative"}}},
 {"data":{"values":[{"x":-9.5,"y":6,"dir":270},{"x":9.45,"y":5.79,"dir":69}]},
  "mark":{"type":"point","shape":"M0,-1L0.55,0.8L0,0.4L-0.55,0.8Z","filled":true,"color":"#1a78c2","opacity":1,"size":330},
  "encoding":{"angle":{"field":"dir","type":"quantitative","scale":null}}},
 {"data":{"values":[{"x":-5,"y":6},{"x":-2,"y":0}]},
  "mark":{"type":"point","shape":"circle","filled":true,"color":"#1a78c2","opacity":1,"size":190}},
 {"data":{"values":[{"x":-5,"y":9},{"x":-2,"y":6}]},
  "mark":{"type":"point","shape":"circle","filled":true,"fill":"white","stroke":"#1a78c2","strokeWidth":3,"opacity":1,"size":190}}
]
}
]
}
